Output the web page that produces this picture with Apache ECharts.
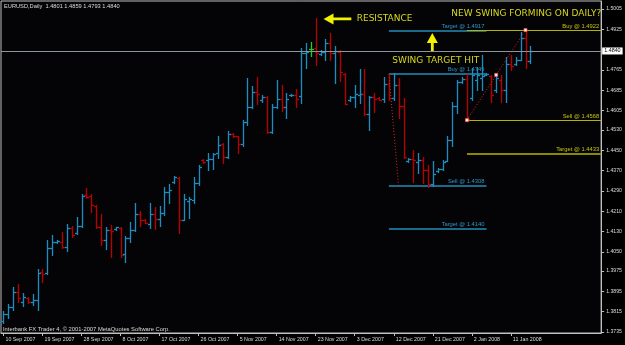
<!DOCTYPE html>
<html><head><meta charset="utf-8">
<script src="https://cdn.jsdelivr.net/npm/echarts@6/dist/echarts.min.js"></script>
<style>html,body{margin:0;padding:0;background:#000;}#c{width:625px;height:345px;}</style>
</head><body><div id="c"></div>
<script>
// ---------- data ----------
const symbolName = 'EURUSD';
const periodName = 'Daily';
const tickLabels = ['10 Sep 2007','19 Sep 2007','28 Sep 2007','8 Oct 2007','17 Oct 2007','26 Oct 2007','5 Nov 2007','14 Nov 2007','23 Nov 2007','3 Dec 2007','12 Dec 2007','21 Dec 2007','2 Jan 2008','11 Jan 2008'];
const barsPerTick = 8;
const slotCount = 123; // 109 bars + empty chart shift

const openP = [1.3778,1.3806,1.3833,1.3892,1.3853,1.3869,1.3853,1.3861,1.3971,1.3967,1.4065,1.4089,1.4089,1.4069,1.4144,1.4124,1.4152,1.4274,1.4270,1.4230,1.4148,1.4097,1.4136,1.4140,1.4144,1.4042,1.4105,1.4136,1.4199,1.4175,1.4160,1.4199,1.4179,1.4203,1.4285,1.4325,1.4341,1.4175,1.4250,1.4254,1.4321,1.4411,1.4411,1.4415,1.4439,1.4474,1.4423,1.4514,1.4506,1.4474,1.4561,1.4620,1.4679,1.4647,1.4659,1.4521,1.4620,1.4651,1.4620,1.4665,1.4667,1.4663,1.4832,1.4848,1.4852,1.4828,1.4836,1.4871,1.4832,1.4836,1.4749,1.4647,1.4659,1.4667,1.4671,1.4592,1.4659,1.4655,1.4651,1.4710,1.4655,1.4706,1.4624,1.4407,1.4415,1.4403,1.4411,1.4372,1.4317,1.4368,1.4376,1.4407,1.4490,1.4624,1.4718,1.4730,1.4655,1.4726,1.4734,1.4747,1.4742,1.4687,1.4726,1.4687,1.4789,1.4789,1.4805,1.4891,1.4801];
const highP = [1.3818,1.3845,1.3912,1.3924,1.3888,1.3873,1.3884,1.3983,1.3983,1.4097,1.4116,1.4097,1.4128,1.4160,1.4152,1.4187,1.4278,1.4301,1.4278,1.4234,1.4199,1.4148,1.4156,1.4148,1.4148,1.4112,1.4168,1.4242,1.4211,1.4179,1.4242,1.4226,1.4230,1.4305,1.4317,1.4348,1.4344,1.4278,1.4266,1.4344,1.4392,1.4415,1.4439,1.4439,1.4506,1.4478,1.4525,1.4517,1.4506,1.4569,1.4734,1.4702,1.4738,1.4667,1.4663,1.4631,1.4726,1.4706,1.4675,1.4671,1.4690,1.4852,1.4871,1.4875,1.4970,1.4844,1.4887,1.4911,1.4860,1.4844,1.4753,1.4663,1.4706,1.4769,1.4769,1.4663,1.4675,1.4659,1.4738,1.4749,1.4753,1.4734,1.4655,1.4419,1.4451,1.4439,1.4423,1.4392,1.4407,1.4380,1.4411,1.4506,1.4639,1.4726,1.4738,1.4749,1.4773,1.4777,1.4824,1.4753,1.4746,1.4746,1.4746,1.4816,1.4824,1.4816,1.4915,1.4922,1.4859];
const lowP = [1.3770,1.3790,1.3821,1.3853,1.3837,1.3849,1.3841,1.3821,1.3932,1.3963,1.4038,1.4085,1.4065,1.4053,1.4108,1.4120,1.4148,1.4262,1.4207,1.4144,1.4077,1.4061,1.4030,1.4136,1.4030,1.4010,1.4089,1.4132,1.4152,1.4164,1.4144,1.4140,1.4152,1.4195,1.4242,1.4321,1.4124,1.4175,1.4183,1.4242,1.4313,1.4399,1.4372,1.4376,1.4419,1.4399,1.4419,1.4502,1.4439,1.4466,1.4549,1.4616,1.4631,1.4639,1.4517,1.4517,1.4616,1.4604,1.4576,1.4663,1.4620,1.4635,1.4773,1.4820,1.4785,1.4824,1.4805,1.4805,1.4714,1.4722,1.4631,1.4643,1.4620,1.4635,1.4588,1.4529,1.4600,1.4647,1.4639,1.4647,1.4647,1.4576,1.4419,1.4403,1.4325,1.4360,1.4321,1.4305,1.4309,1.4364,1.4372,1.4407,1.4466,1.4596,1.4714,1.4569,1.4647,1.4687,1.4687,1.4746,1.4639,1.4679,1.4639,1.4639,1.4765,1.4785,1.4805,1.4773,1.4793];
const closeP = [1.3806,1.3833,1.3892,1.3869,1.3873,1.3853,1.3861,1.3967,1.3963,1.4065,1.4089,1.4091,1.4069,1.4144,1.4116,1.4152,1.4270,1.4266,1.4234,1.4148,1.4097,1.4136,1.4132,1.4146,1.4038,1.4105,1.4136,1.4199,1.4175,1.4164,1.4199,1.4179,1.4203,1.4285,1.4293,1.4344,1.4175,1.4258,1.4258,1.4321,1.4384,1.4403,1.4415,1.4435,1.4470,1.4423,1.4514,1.4506,1.4474,1.4561,1.4620,1.4679,1.4671,1.4659,1.4521,1.4620,1.4651,1.4620,1.4651,1.4667,1.4651,1.4832,1.4836,1.4848,1.4832,1.4836,1.4871,1.4832,1.4840,1.4757,1.4631,1.4659,1.4671,1.4671,1.4592,1.4659,1.4651,1.4649,1.4710,1.4655,1.4706,1.4624,1.4423,1.4415,1.4411,1.4411,1.4372,1.4317,1.4356,1.4376,1.4403,1.4490,1.4624,1.4718,1.4730,1.4573,1.4746,1.4746,1.4742,1.4751,1.4667,1.4734,1.4687,1.4789,1.4781,1.4805,1.4891,1.4801,1.4840];

const yTicks = [1.3735,1.3815,1.3895,1.3975,1.4050,1.4130,1.4210,1.4290,1.4370,1.4450,1.4530,1.4605,1.4685,1.4765,1.4925,1.5005];
const yMin = 1.3731, yMax = 1.50365;

// trade levels
const levelNames  = ['Target @ 1.4917','Buy @ 1.4749','Sell @ 1.4308','Target @ 1.4140','Buy @ 1.4922','Sell @ 1.4568','Target @ 1.4433'];
const levelPrices = [1.4917,1.4749,1.4308,1.4140,1.4922,1.4568,1.4433];
const levelFrom   = [79,79,79,79,95,95,95];
const levelTo     = [99,99,99,99,122.5,122.5,122.5];

// swing trend lines [barIndex, price]
const swingDown = [[79,1.4749],[81,1.4308]];
const swingUp   = [[95,1.4568],[101,1.4746],[107,1.4922]];

// annotations
const noteTexts  = ['RESISTANCE','SWING TARGET HIT','NEW SWING FORMING ON DAILY?'];
const noteAt     = [[72.4,1.4966],[79.7,1.4801],[91.8,1.4985]];
const arrowTips  = [[65.6,1.4966],[87.9,1.4911]];
const arrowTails = [[71.3,1.4966],[87.9,1.4836]];

const footerText = 'Interbank FX Trader 4, \u00a9 2001-2007 MetaQuotes Software Corp.';

// ---------- styles ----------
const UP = '#1b8dc0', DOWN = '#b80000', DOJI = '#22cc22';
const BLUE_LINE = {line:'#1a6a8a', text:'#2f98c8', w:2};
const YEL_LINE  = {line:'#b4b400', text:'#c8c800', w:1};
const YEL_THICK = {line:'#8a8a00', text:'#c8c800', w:2};
const levelStyle = [BLUE_LINE,BLUE_LINE,BLUE_LINE,BLUE_LINE,YEL_LINE,YEL_LINE,YEL_THICK];
const AXIS = '#c0c0c0', TXT = '#dcdcdc', NOTE = '#d8d820', ARROW = '#f2f200';
const SMALL = '"Liberation Sans", Arial, sans-serif';

// ---------- build ----------
const cats = Array.from({length: slotCount}, (_, i) => 'b' + i);
const bars = openP.map((o, i) => [i, o, highP[i], lowP[i], closeP[i]]);
const lastIdx = closeP.length - 1;
const lastClose = closeP[lastIdx];
const showTick = i => i % barsPerTick === 0 && i / barsPerTick < tickLabels.length;

function fx(api, x, y) {
  const f = Math.floor(x), t = x - f;
  const a = api.coord([f, y]), b = api.coord([f + 1, y]);
  return [a[0] + (b[0] - a[0]) * t, a[1]];
}

const chart = echarts.init(document.getElementById('c'), null, {renderer: 'canvas', width: 625, height: 345});
chart.setOption({
  animation: false,
  backgroundColor: '#000000',
  grid: {left: 1, right: 23, top: 1, bottom: 12, show: true, borderColor: AXIS, borderWidth: 1, backgroundColor: '#040406'},
  xAxis: {
    type: 'category', data: cats, boundaryGap: true,
    axisLine: {show: true, lineStyle: {color: AXIS}},
    axisTick: {show: true, alignWithLabel: true, interval: (i) => showTick(i), length: 3, lineStyle: {color: AXIS}},
    axisLabel: {interval: (i) => showTick(i), formatter: (v, i) => tickLabels[Math.round(i / barsPerTick)] || '',
      align: 'left', margin: 4, padding: [0, 0, 0, 2], color: TXT, fontSize: 5.3, fontFamily: SMALL},
    splitLine: {show: false}
  },
  yAxis: {
    type: 'value', position: 'right', min: yMin, max: yMax,
    axisLine: {show: true, lineStyle: {color: AXIS}},
    axisTick: {show: true, length: 3, customValues: yTicks, lineStyle: {color: AXIS}},
    axisLabel: {customValues: yTicks, formatter: v => v.toFixed(4), margin: 5, color: TXT, fontSize: 5.2, fontFamily: SMALL},
    splitLine: {show: false}
  },
  graphic: [
    {type: 'text', left: 4, top: 3, style: {text: symbolName + ',' + periodName + '  ' + [openP[lastIdx], highP[lastIdx], lowP[lastIdx], closeP[lastIdx]].map(v => v.toFixed(4)).join(' '), fill: TXT, font: '5.7px ' + SMALL}},
    {type: 'text', left: 3, top: 326.5, style: {text: footerText, fill: TXT, font: '5.8px ' + SMALL}}
  ],
  series: [
    {
      type: 'line', name: 'bid', data: [], silent: true,
      markLine: {
        silent: true, symbol: 'none', animation: false, precision: 4,
        data: [{yAxis: lastClose}],
        lineStyle: {color: '#8c959c', type: 'solid', width: 1},
        label: {show: true, position: 'end', formatter: lastClose.toFixed(4), backgroundColor: '#ffffff', color: '#000000',
          fontSize: 5.4, fontFamily: SMALL, padding: [1, 2, 1, 2], distance: 1}
      }
    },
    {
      type: 'custom', name: 'levels',
      data: levelPrices.map((p, k) => [levelFrom[k], p]),
      encode: {x: 0, y: 1},
      renderItem: (params, api) => {
        const k = params.dataIndex, p = levelPrices[k], st = levelStyle[k];
        const a = fx(api, levelFrom[k], p), b = fx(api, levelTo[k], p);
        const y = Math.round(a[1]) + (st.w % 2 ? 0.5 : 0);
        return {type: 'group', children: [
          {type: 'line', shape: {x1: a[0], y1: y, x2: b[0], y2: y}, style: {stroke: st.line, lineWidth: st.w}},
          {type: 'text', x: b[0] - 2, y: y - 1 - st.w / 2,
            style: {text: levelNames[k], fill: st.text, font: '5.8px ' + SMALL, align: 'right', verticalAlign: 'bottom', textAlign: 'right', textVerticalAlign: 'bottom'}}
        ]};
      }
    },
    {
      type: 'custom', name: 'ohlc', data: bars, encode: {x: 0, y: [1, 2, 3, 4]},
      renderItem: (params, api) => {
        const i = api.value(0), o = api.value(1), h = api.value(2), l = api.value(3), c = api.value(4);
        const po = api.coord([i, o]), ph = api.coord([i, h]), pl = api.coord([i, l]), pc = api.coord([i, c]);
        const col = c > o ? UP : (c < o ? DOWN : DOJI);
        const x = Math.round(po[0]) + 0.5;
        const yo = Math.round(po[1]) + 0.5, yc = Math.round(pc[1]) + 0.5;
        const st = {stroke: col, lineWidth: 1.3};
        return {type: 'group', children: [
          {type: 'line', shape: {x1: x, y1: Math.round(ph[1]), x2: x, y2: Math.round(pl[1]) + 1}, style: st},
          {type: 'line', shape: {x1: x - 2.5, y1: yo, x2: x, y2: yo}, style: st},
          {type: 'line', shape: {x1: x, y1: yc, x2: x + 2.5, y2: yc}, style: st}
        ]};
      }
    },
    {
      type: 'line', name: 'swingDown', data: swingDown, showSymbol: false, silent: true,
      lineStyle: {color: '#e82020', width: 1, type: [1, 2]}
    },
    {
      type: 'line', name: 'swingUp', data: swingUp, silent: true,
      symbol: 'rect', symbolSize: 3, showSymbol: true,
      itemStyle: {color: '#ffffff', borderColor: '#ff5050', borderWidth: 0.8},
      lineStyle: {color: '#e82020', width: 1, type: [1, 2]}
    },
    {
      type: 'custom', name: 'arrows', data: arrowTips.map((t, k) => [t[0], t[1]]), encode: {x: 0, y: 1},
      renderItem: (params, api) => {
        const k = params.dataIndex;
        const tip = fx(api, arrowTips[k][0], arrowTips[k][1]);
        const tail = fx(api, arrowTails[k][0], arrowTails[k][1]);
        let dx = tip[0] - tail[0], dy = tip[1] - tail[1];
        const len = Math.hypot(dx, dy); dx /= len; dy /= len;
        const nx = -dy, ny = dx, hl = 10, hw = 5.5, sw = 1.4;
        const bx = tip[0] - dx * hl, by = tip[1] - dy * hl;
        const pts = [
          [tip[0], tip[1]], [bx + nx * hw, by + ny * hw], [bx + nx * sw, by + ny * sw],
          [tail[0] + nx * sw, tail[1] + ny * sw], [tail[0] - nx * sw, tail[1] - ny * sw],
          [bx - nx * sw, by - ny * sw], [bx - nx * hw, by - ny * hw]
        ];
        return {type: 'polygon', shape: {points: pts}, style: {fill: ARROW}};
      }
    },
    {
      type: 'custom', name: 'notes', data: noteAt.map(p => [p[0], p[1]]), encode: {x: 0, y: 1},
      renderItem: (params, api) => {
        const k = params.dataIndex;
        const p = fx(api, noteAt[k][0], noteAt[k][1]);
        return {type: 'text', x: p[0], y: p[1],
          style: {text: noteTexts[k], fill: NOTE, font: '9px "DejaVu Sans", sans-serif', align: 'left', verticalAlign: 'middle', textAlign: 'left', textVerticalAlign: 'middle'}};
      }
    }
  ]
});
</script>
</body></html>
